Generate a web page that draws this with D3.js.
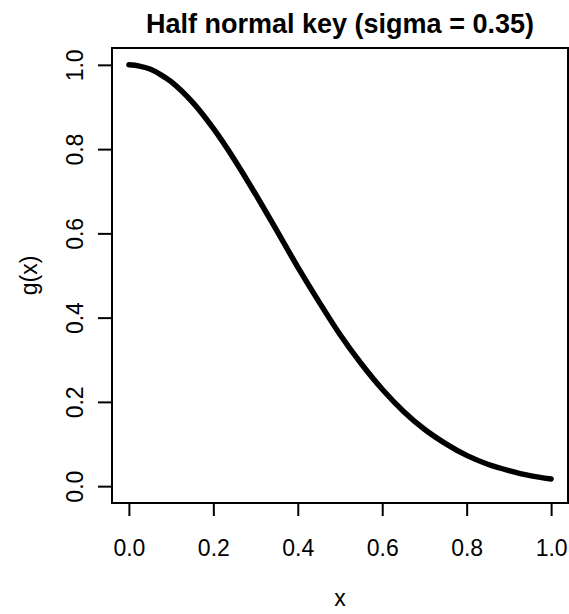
<!DOCTYPE html>
<html><head><meta charset="utf-8">
<script src="https://cdn.jsdelivr.net/npm/d3@7"></script>
<style>body{margin:0;background:#fff}svg{display:block}text{font-family:"Liberation Sans",Arial,sans-serif;fill:#000}</style>
</head><body>
<script>
const xVals = [0,0.025,0.05,0.075,0.1,0.15,0.2,0.25,0.3,0.35,0.4,0.45,0.5,0.55,0.6,0.65,0.7,0.75,0.8,0.85,0.9,0.95,1.0];
const gVals = [1.0,0.997,0.990,0.977,0.960,0.912,0.849,0.775,0.693,0.607,0.520,0.438,0.360,0.291,0.230,0.178,0.135,0.101,0.073,0.052,0.037,0.025,0.017];
const xTicks = [0,0.2,0.4,0.6,0.8,1.0];
const yTicks = [0,0.2,0.4,0.6,0.8,1.0];
const titleText = "Half normal key (sigma = 0.35)";

const W=569,H=614;
const box={l:112,r:568,t:48,b:503};
const svg=d3.select("body").append("svg").attr("width",W).attr("height",H);
const x=d3.scaleLinear().domain([-0.04,1.04]).range([box.l,box.r]);
const y=d3.scaleLinear().domain([-0.04,1.04]).range([box.b,box.t]);
const fmt=d3.format(".1f");

const xAxis=svg.append("g").attr("transform",`translate(0,${box.b})`)
  .call(d3.axisBottom(x).tickValues(xTicks).tickFormat(fmt).tickSize(13));
xAxis.select(".domain").attr("stroke","none");
xAxis.selectAll("line").attr("stroke-width",2);
xAxis.selectAll("text").attr("dy",null).attr("y",53).style("font-size","23px");

const yAxis=svg.append("g").attr("transform",`translate(${box.l},0)`)
  .call(d3.axisLeft(y).tickValues(yTicks).tickFormat(fmt).tickSize(14));
yAxis.select(".domain").attr("stroke","none");
yAxis.selectAll("line").attr("stroke-width",2);
yAxis.selectAll("text").remove();
yAxis.selectAll(".tick").append("text")
  .attr("transform","translate(-29,0) rotate(-90)")
  .attr("text-anchor","middle")
  .style("font-size","23px").text(d=>fmt(d));

svg.append("rect").attr("x",box.l).attr("y",box.t).attr("width",box.r-box.l).attr("height",box.b-box.t)
  .attr("fill","none").attr("stroke","#000").attr("stroke-width",2);

const line=d3.line().x((d,i)=>x(xVals[i])).y(d=>y(d)).curve(d3.curveCatmullRom.alpha(0.5));
svg.append("path").datum(gVals).attr("d",line).attr("fill","none").attr("stroke","#000")
  .attr("stroke-width",5.5).attr("stroke-linecap","round").attr("stroke-linejoin","round");

svg.append("text").attr("x",(box.l+box.r)/2).attr("y",33).attr("text-anchor","middle")
  .style("font-size","27px").style("font-weight","bold").text(titleText);
svg.append("text").attr("x",(box.l+box.r)/2).attr("y",606).attr("text-anchor","middle")
  .style("font-size","23px").text("x");
svg.append("text").attr("transform",`translate(37,${(box.t+box.b)/2}) rotate(-90)`).attr("text-anchor","middle")
  .style("font-size","23px").text("g(x)");
</script>
</body></html>
